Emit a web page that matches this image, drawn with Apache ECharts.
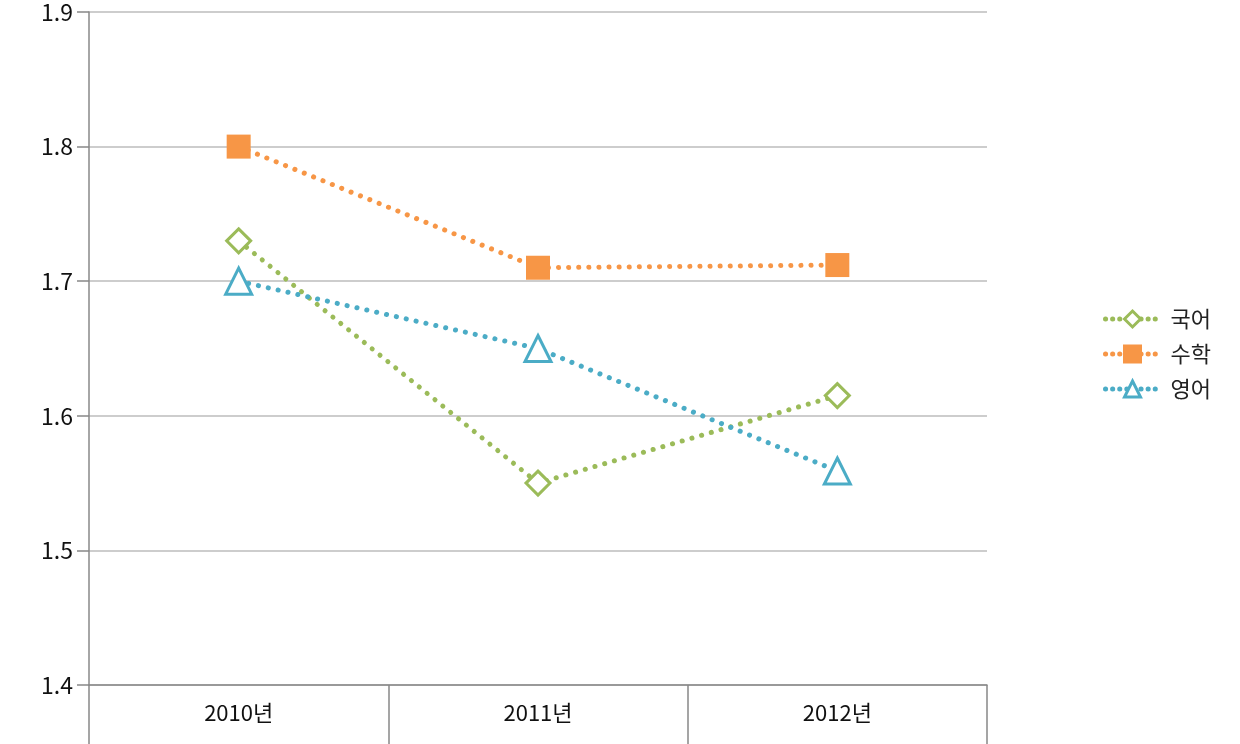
<!DOCTYPE html>
<html lang="ko">
<head>
    <meta charset="UTF-8">
    <title>chart</title>
    <style>
        html, body { margin: 0; padding: 0; background: #fff; }
        #chart { width: 1240px; height: 744px; }
    </style>
</head>
<body>
    <div id="chart"></div>
    <script src="https://cdn.jsdelivr.net/npm/echarts@6/dist/echarts.min.js"></script>
    <script>
    var years = ['2010년', '2011년', '2012년'];
    var korean = [1.73, 1.55, 1.615];
    var math = [1.80, 1.71, 1.712];
    var english = [1.70, 1.65, 1.559];

    var font = '"Noto Sans CJK KR", "Noto Sans", sans-serif';
    var dots = [0.1, 10];

    var chart = echarts.init(document.getElementById('chart'));

    function mkSeries(name, data, color, symbol, size, filled) {
        return {
            name: name,
            type: 'line',
            data: data,
            symbol: symbol,
            symbolSize: size,
            showAllSymbol: true,
            lineStyle: { color: color, width: 5, type: dots, cap: 'round' },
            itemStyle: filled
                ? { color: color, borderColor: color, borderWidth: 0 }
                : { color: '#fff', borderColor: color, borderWidth: 3 },
            emphasis: { disabled: true },
            z: 3
        };
    }

    var option = {
        backgroundColor: '#fff',
        animation: false,
        textStyle: { fontFamily: font },
        grid: { left: 89, right: 253, top: 12, bottom: 59 },
        legend: {
            orient: 'vertical',
            left: 1098,
            top: 303,
            itemWidth: 54,
            itemHeight: 20,
            itemGap: 13,
            lineStyle: { width: 5, type: [0.1, 7], cap: 'round' },
            itemStyle: { borderWidth: 3 },
            textStyle: { fontSize: 22, color: '#222', fontFamily: font, padding: [0, 0, 0, 6] },
            data: ['국어', '수학', '영어']
        },
        xAxis: {
            type: 'category',
            data: years,
            boundaryGap: true,
            axisLine: { lineStyle: { color: '#888', width: 1.5 } },
            axisTick: { show: true, length: 59, interval: 0, lineStyle: { color: '#888', width: 1.5 } },
            axisLabel: { fontSize: 22, color: '#111', margin: 17, fontFamily: font }
        },
        yAxis: {
            type: 'value',
            min: 1.4,
            max: 1.9,
            interval: 0.1,
            axisLine: { show: true, lineStyle: { color: '#888', width: 1.5 } },
            axisTick: { show: true, length: 12, lineStyle: { color: '#888', width: 1.5 } },
            axisLabel: { fontSize: 23, color: '#111', margin: 16, fontFamily: font,
                formatter: function (v) { return v.toFixed(1); } },
            splitLine: { lineStyle: { color: '#bdbdbd', width: 1.5 } }
        },
        series: [
            mkSeries('국어', korean, '#9bbb59', 'diamond', 24, false),
            mkSeries('수학', math, '#f79646', 'rect', 24, true),
            mkSeries('영어', english, '#4bacc6', 'triangle', 26, false)
        ]
    };
    chart.setOption(option);
    </script>
</body>
</html>
